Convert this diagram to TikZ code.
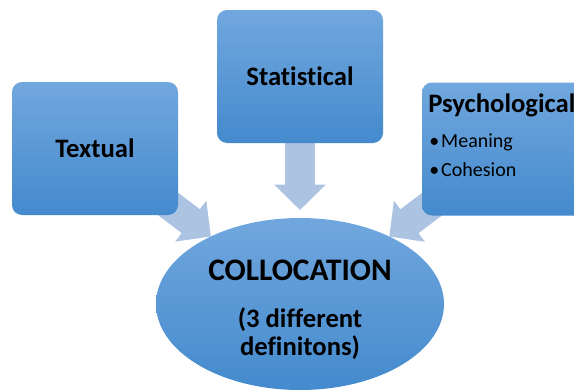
\documentclass[tikz,border=0pt]{standalone}
\usepackage{fontspec}
\setmainfont{Carlito}[Ligatures=NoCommon]
\usetikzlibrary{shapes.geometric, arrows.meta, backgrounds}

\definecolor{boxtop}{RGB}{113,167,222}
\definecolor{boxbot}{RGB}{68,138,205}
\definecolor{arrowblue}{RGB}{172,195,226}

\begin{document}
\begin{tikzpicture}[x=0.75pt, y=-0.75pt,
	blockbox/.style={draw=none, rounded corners=7.5pt, top color=boxtop, bottom color=boxbot,
		minimum width=124.5pt, minimum height=99.75pt, inner sep=0pt, outer sep=0pt,
		font=\fontsize{20}{24}\selectfont\bfseries},
	flowarrow/.style={line width=22.5pt, draw=arrowblue, -{Triangle[width=37.5pt, length=19pt]}},
	bulletline/.style={anchor=west, inner sep=0pt, font=\fontsize{15}{18}\selectfont}]
	
	% Frame of the picture (right box and ellipse run off the page)
	\clip (0,0) rectangle (574,389);
	
	% The three kinds of definition
	\node[blockbox] (textual) at (95,148.5) {Textual};
	\node[blockbox] (stat) at (300,76.5) {Statistical};
	\node[blockbox] (psych) at (505,149) {};
	
	% Text of the right box, set from the top left
	\node[anchor=west, inner sep=0pt, font=\fontsize{20}{24}\selectfont\bfseries] (psychtitle) at (428,105) {Psychological};
	\node[bulletline] (meaning) at (429,142) {\textbullet\hspace{1.5pt}Meaning};
	\node[bulletline] (cohesion) at (429,170) {\textbullet\hspace{1.5pt}Cohesion};
	
	% The central ellipse and its text
	\node[ellipse, draw=none, top color=boxtop, bottom color=boxbot, minimum width=216pt, minimum height=129pt,
		inner sep=0pt, outer sep=0pt] (coll) at (300,304) {};
	\node[align=center, inner sep=0pt, font=\fontsize{20}{21}\selectfont\bfseries] (colltext) at (300,310)
		{{\fontsize{23.5}{26}\selectfont COLLOCATION}\\[14.5pt] (3 different\\ definitons)};
	
	% Block arrows behind the boxes
	\begin{scope}[on background layer]
		\draw[flowarrow] (textual.center) -- (coll);
		\draw[flowarrow] (psych.center) -- (coll);
		\draw[flowarrow, shorten >=6pt] (stat.south) -- (coll);
	\end{scope}
	
\end{tikzpicture}
\end{document}
